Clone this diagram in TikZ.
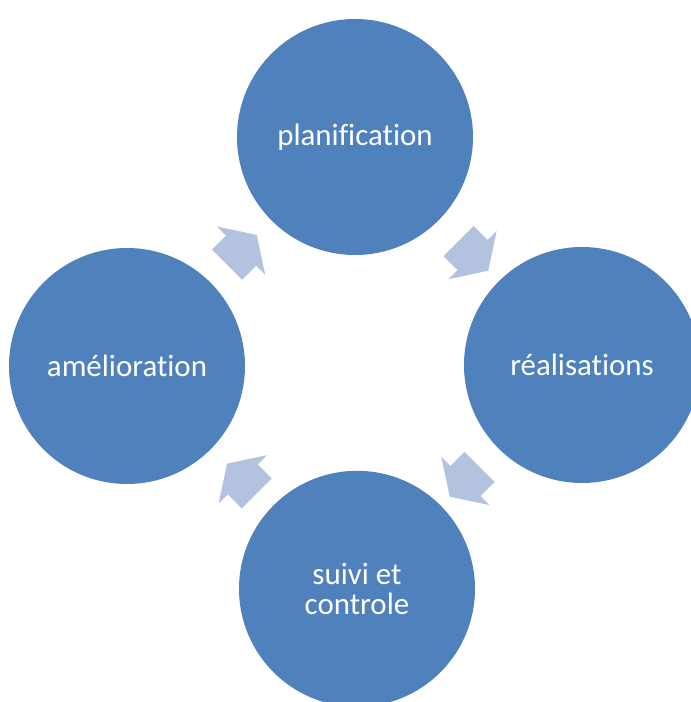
\documentclass[tikz,border=0pt]{standalone}
\usepackage{fontspec}
\setmainfont{Carlito}[Ligatures=NoCommon]
\usepackage{xcolor}
\usepackage{tikz}
\usetikzlibrary{shapes.arrows, calc}

\definecolor{phaseblue}{HTML}{4F81BD}
\definecolor{arrowblue}{HTML}{B3C2DE}

\begin{document}
\begin{tikzpicture}[phase/.style={circle, fill=phaseblue, draw=none, minimum size=5.9cm, inner sep=0pt, text=white, align=center, font=\fontsize{22}{21.5}\selectfont},
    cyclearrow/.style={single arrow, fill=arrowblue, draw=none, inner xsep=0pt, inner ysep=0.525cm, minimum height=1.05cm, single arrow head extend=0.32cm, single arrow tip angle=114}]
    \useasboundingbox (0,0) rectangle (17.25,-17.55);

    \node[phase] (plan) at (8.875,-3.425) {planification};
    \node[phase] (real) at (14.55,-9.125) {réalisations};
    \node[phase] (suivi) at (8.925,-14.72) {suivi et\\controle};
    \node[phase] (amel) at (3.175,-9.15) {amélioration};

    \node[cyclearrow, rotate=45] (a1) at ($(amel)!0.5!(plan)+(-0.1,-0.08)$) {};
    \node[cyclearrow, rotate=-45] (a2) at ($(plan)!0.5!(real)$) {};
    \node[cyclearrow, rotate=-135] (a3) at ($(real)!0.5!(suivi)$) {};
    \node[cyclearrow, rotate=135] (a4) at ($(suivi)!0.5!(amel)+(0.12,-0.15)$) {};
\end{tikzpicture}
\end{document}
